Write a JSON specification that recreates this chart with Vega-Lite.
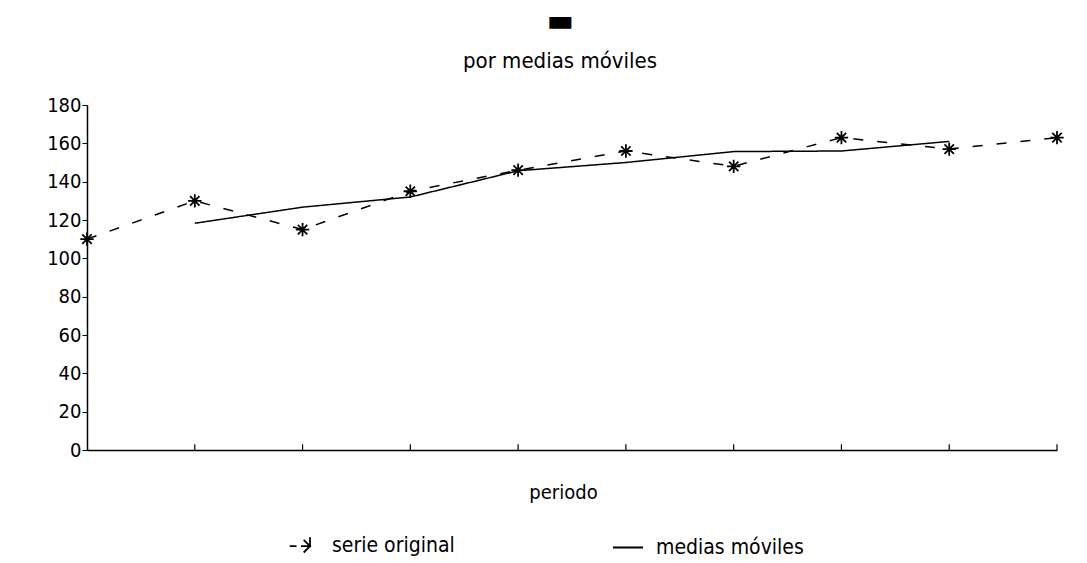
{
  "$schema": "https://vega.github.io/schema/vega-lite/v6.json",
  "autosize": "none",
  "width": 970,
  "height": 345,
  "padding": {"left": 87, "top": 105, "right": 30, "bottom": 113},
  "background": "white",
  "config": {
    "font": "Liberation Sans Narrow, DejaVu Sans Condensed, Liberation Sans",
    "view": {"stroke": null}
  },
  "title": {
    "text": "▬",
    "subtitle": "por medias móviles",
    "anchor": "middle",
    "dx": -12,
    "fontSize": 32,
    "color": "black",
    "subtitleFontSize": 22,
    "subtitleColor": "black",
    "subtitlePadding": 13,
    "offset": 22
  },
  "data": {
    "values": [
      {"periodo": 1, "valor": 110, "serie": "serie original"},
      {"periodo": 2, "valor": 130, "serie": "serie original"},
      {"periodo": 3, "valor": 115, "serie": "serie original"},
      {"periodo": 4, "valor": 135, "serie": "serie original"},
      {"periodo": 5, "valor": 146, "serie": "serie original"},
      {"periodo": 6, "valor": 156, "serie": "serie original"},
      {"periodo": 7, "valor": 148, "serie": "serie original"},
      {"periodo": 8, "valor": 163, "serie": "serie original"},
      {"periodo": 9, "valor": 157, "serie": "serie original"},
      {"periodo": 10, "valor": 163, "serie": "serie original"},
      {"periodo": 2, "valor": 118.3, "serie": "medias móviles"},
      {"periodo": 3, "valor": 126.7, "serie": "medias móviles"},
      {"periodo": 4, "valor": 132, "serie": "medias móviles"},
      {"periodo": 5, "valor": 145.7, "serie": "medias móviles"},
      {"periodo": 6, "valor": 150, "serie": "medias móviles"},
      {"periodo": 7, "valor": 155.7, "serie": "medias móviles"},
      {"periodo": 8, "valor": 156, "serie": "medias móviles"},
      {"periodo": 9, "valor": 161, "serie": "medias móviles"}
    ]
  },
  "encoding": {
    "x": {
      "field": "periodo",
      "type": "quantitative",
      "scale": {"domain": [1, 10], "nice": false, "zero": false},
      "axis": {
        "title": "periodo",
        "titleX": 476,
        "values": [2, 3, 4, 5, 6, 7, 8, 9, 10],
        "labels": false,
        "grid": false,
        "ticks": false,
        "domainColor": "black",
        "domainWidth": 1.5,
        "titleFontSize": 20,
        "titleFontWeight": "normal",
        "titleColor": "black",
        "titlePadding": 32
      }
    },
    "y": {
      "field": "valor",
      "type": "quantitative",
      "scale": {"domain": [0, 180], "nice": false},
      "axis": {
        "title": null,
        "values": [0, 20, 40, 60, 80, 100, 120, 140, 160, 180],
        "grid": false,
        "tickSize": 5,
        "tickColor": "black",
        "domainColor": "black",
        "domainWidth": 1.5,
        "labelFontSize": 20,
        "labelColor": "black",
        "labelPadding": 1
      }
    }
  },
  "layer": [
    {
      "transform": [{"filter": "datum.serie === 'serie original' && datum.periodo > 1"}],
      "mark": {"type": "rule", "color": "black", "strokeWidth": 1.2},
      "encoding": {
        "y": {"datum": 0},
        "y2": {"datum": 3}
      }
    },
    {
      "mark": {"type": "line", "strokeWidth": 1.5},
      "encoding": {
        "detail": {"field": "serie"},
        "strokeDash": {
          "field": "serie",
          "type": "nominal",
          "scale": {"domain": ["serie original", "medias móviles"], "range": [[10, 14], [1, 0]]},
          "legend": null
        },
        "color": {
          "field": "serie",
          "type": "nominal",
          "scale": {"domain": ["serie original", "medias móviles"], "range": ["black", "black"]},
          "legend": {
            "title": null,
            "orient": "none",
            "direction": "horizontal",
            "legendX": 201,
            "legendY": 425,
            "symbolType": "stroke",
            "symbolSize": 900,
            "symbolStrokeColor": "black",
            "symbolStrokeWidth": 1.5,
            "labelFontSize": 21,
            "labelColor": "black",
            "labelOffset": 12,
            "columnPadding": 154,
            "encode": {
              "symbols": {
                "update": {
                  "shape": {"signal": "datum.value === 'serie original' ? 'M-0.95,0L-0.5,0M0.4,-0.6L0.4,0.6M-0.2,0L1,0M-0.02,-0.42L0.82,0.42M-0.02,0.42L0.82,-0.42' : 'stroke'"},
                  "strokeWidth": {"value": 1.8}
                }
              }
            }
          }
        }
      }
    },
    {
      "transform": [{"filter": "datum.serie === 'serie original'"}],
      "mark": {
        "type": "point",
        "shape": "M0,-1L0,1M-1,0L1,0M-0.7,-0.7L0.7,0.7M-0.7,0.7L0.7,-0.7",
        "filled": false,
        "stroke": "black",
        "strokeWidth": 1.8,
        "size": 180,
        "opacity": 1
      }
    }
  ]
}
